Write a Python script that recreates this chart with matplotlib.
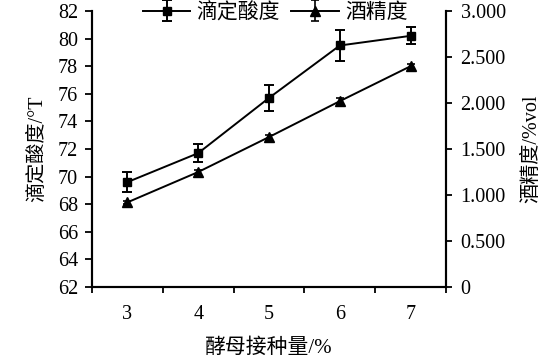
import matplotlib
matplotlib.use("Agg")
import matplotlib.pyplot as plt
import numpy as np

plt.rcParams['font.family'] = ['Liberation Serif', 'Noto Sans CJK SC']
plt.rcParams['axes.unicode_minus'] = False

inoculum = [3, 4, 5, 6, 7]
acidity = [69.6, 71.7, 75.7, 79.5, 80.2]
acidity_err = [0.75, 0.65, 0.95, 1.1, 0.62]
alcohol = [0.92, 1.25, 1.63, 2.02, 2.40]
alcohol_err = [0.02, 0.02, 0.02, 0.03, 0.02]
left_ticks = [62, 64, 66, 68, 70, 72, 74, 76, 78, 80, 82]
right_ticks = [0, 0.5, 1.0, 1.5, 2.0, 2.5, 3.0]
right_labels = ['0', '0.500', '1.000', '1.500', '2.000', '2.500', '3.000']

fig = plt.figure(figsize=(5.6, 3.56), dpi=100)
ax = fig.add_axes([92/560, 1-287/356, (446-92)/560, (287-11)/356])
ax2 = ax.twinx()

l1 = ax.errorbar(inoculum, acidity, yerr=acidity_err, color='black', lw=1.4,
                 marker='s', ms=6, capsize=3.5, elinewidth=1.4, capthick=1.4,
                 label='滴定酸度')
l2 = ax2.errorbar(inoculum, alcohol, yerr=alcohol_err, color='black', lw=1.4,
                  marker='^', ms=7, capsize=3, elinewidth=1.2, capthick=1.2,
                  label='酒精度')

ax.set_xlim(2.5, 7.5)
ax.set_ylim(62, 82)
ax2.set_ylim(0, 3.0)
ax.set_xticks(inoculum)
ax.set_xticklabels([str(v) for v in inoculum])
ax.set_xticks(np.arange(2.5, 8.0, 1.0), minor=True)
ax.tick_params(axis='x', which='major', length=0, labelsize=14.5, pad=13)
ax.tick_params(axis='x', which='minor', length=4.5, width=1.3, direction='out')
ax.set_yticks(left_ticks)
ax.tick_params(axis='y', length=5, width=1.3, direction='out', labelsize=14.5, pad=5)
ax2.set_yticks(right_ticks)
ax2.set_yticklabels(right_labels)
ax2.tick_params(axis='y', length=4.5, width=1.3, direction='out', labelsize=14.5, pad=6)

for a in (ax, ax2):
    a.spines['top'].set_visible(False)
    for s in ('left', 'right', 'bottom'):
        a.spines[s].set_linewidth(1.5)

ax.set_xlabel('酵母接种量/%', fontsize=15, labelpad=10)
ax.set_ylabel('滴定酸度/°T', fontsize=14.5, labelpad=8)
ax2.set_ylabel('酒精度/%vol', fontsize=14.5, rotation=90, labelpad=12)

fig.legend([l1, l2], ['滴定酸度', '酒精度'], loc='center', bbox_to_anchor=(275/560, 1-13/356),
           ncol=2, frameon=False, fontsize=15, handlelength=2.3, handletextpad=0.3,
           columnspacing=0.5, borderpad=0)

fig.savefig('out.png', dpi=100, facecolor='white')
